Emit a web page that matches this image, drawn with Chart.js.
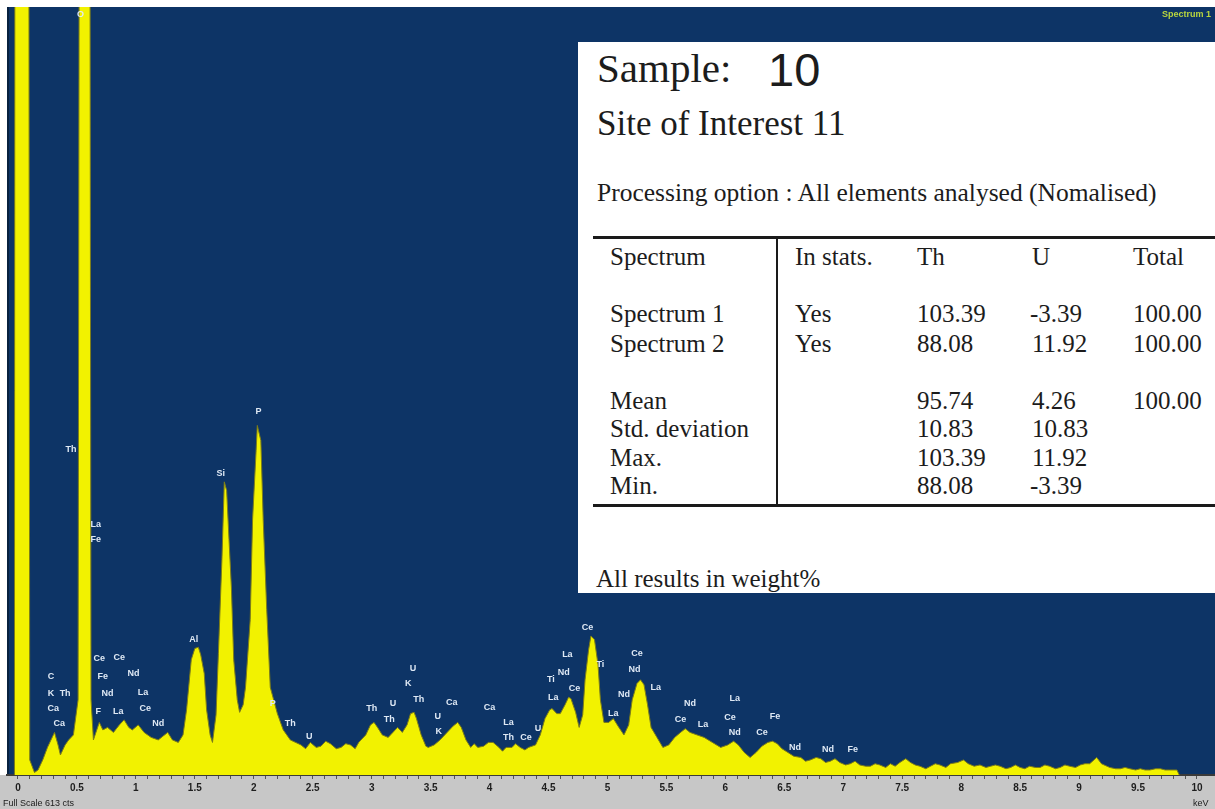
<!DOCTYPE html>
<html>
<head>
<meta charset="utf-8">
<script src="https://cdn.jsdelivr.net/npm/chart.js@4.4.1/dist/chart.umd.min.js"></script>
<style>
  html, body { margin: 0; padding: 0; background: #ffffff; }
  #wrap { position: relative; width: 1215px; height: 809px; overflow: hidden; }
  #spec { position: absolute; left: 0; top: 0; }
  .box { position: absolute; left: 578px; top: 42px; width: 637px; height: 551px; background: #ffffff; }
  .t { position: absolute; white-space: nowrap; line-height: 1; color: #1c1c1c;
       font-family: "Liberation Serif", "Times New Roman", serif; font-size: 25px; }
  .sans { font-family: "Liberation Sans", Arial, sans-serif; }
  .rule { position: absolute; background: #1a1a1a; }
  .ax { position: absolute; white-space: nowrap; line-height: 1; color: #202020;
        font-family: "Liberation Sans", Arial, sans-serif; font-size: 9px; }
  .spec1 { position: absolute; white-space: nowrap; line-height: 1; color: #b9d63e;
           font-family: "Liberation Sans", Arial, sans-serif; font-size: 9px; font-weight: bold; }
</style>
</head>
<body>
<div id="wrap">
  <canvas id="spec" width="1215" height="809"></canvas>

  <div class="spec1" style="left:1162px; top:10px;">Spectrum 1</div>

  <div class="box"></div>
  <div class="t" style="left:597px; top:48px; font-size:41px;">Sample:</div>
  <div class="t sans" style="left:768px; top:46px; font-size:47px;">10</div>
  <div class="t" style="left:597px; top:106px; font-size:35px;">Site of Interest 11</div>
  <div class="t" style="left:597px; top:180px; font-size:25.5px;">Processing option : All elements analysed (Nomalised)</div>

  <div class="rule" style="left:593px; top:236px; width:622px; height:3px;"></div>
  <div class="rule" style="left:776px; top:238px; width:2px; height:268px;"></div>
  <div class="rule" style="left:593px; top:504px; width:622px; height:3px;"></div>

  <div class="t" style="left:610px; top:244px;">Spectrum</div>
  <div class="t" style="left:795px; top:244px;">In stats.</div>
  <div class="t" style="left:917px; top:244px;">Th</div>
  <div class="t" style="left:1032px; top:244px;">U</div>
  <div class="t" style="left:1133px; top:244px;">Total</div>

  <div class="t" style="left:610px; top:301px;">Spectrum 1</div>
  <div class="t" style="left:795px; top:301px;">Yes</div>
  <div class="t" style="left:917px; top:301px;">103.39</div>
  <div class="t" style="left:1030px; top:301px;">-3.39</div>
  <div class="t" style="left:1133px; top:301px;">100.00</div>

  <div class="t" style="left:610px; top:331px;">Spectrum 2</div>
  <div class="t" style="left:795px; top:331px;">Yes</div>
  <div class="t" style="left:917px; top:331px;">88.08</div>
  <div class="t" style="left:1032px; top:331px;">11.92</div>
  <div class="t" style="left:1133px; top:331px;">100.00</div>

  <div class="t" style="left:610px; top:388px;">Mean</div>
  <div class="t" style="left:917px; top:388px;">95.74</div>
  <div class="t" style="left:1032px; top:388px;">4.26</div>
  <div class="t" style="left:1133px; top:388px;">100.00</div>

  <div class="t" style="left:610px; top:416px;">Std. deviation</div>
  <div class="t" style="left:917px; top:416px;">10.83</div>
  <div class="t" style="left:1032px; top:416px;">10.83</div>

  <div class="t" style="left:610px; top:445px;">Max.</div>
  <div class="t" style="left:917px; top:445px;">103.39</div>
  <div class="t" style="left:1032px; top:445px;">11.92</div>

  <div class="t" style="left:610px; top:473px;">Min.</div>
  <div class="t" style="left:917px; top:473px;">88.08</div>
  <div class="t" style="left:1030px; top:473px;">-3.39</div>

  <div class="t" style="left:596px; top:566px;">All results in weight%</div>

  <div class="ax" style="left:3px; top:799px;">Full Scale 613 cts</div>
  <div class="ax" style="left:1193px; top:799px;">keV</div>
</div>

<script>
// EDS spectrum, counts per channel against energy (keV)
const energyLow = [-0.03, -0.02, 0.08, 0.10, 0.14, 0.17, 0.21, 0.25, 0.31, 0.34, 0.36, 0.40, 0.43, 0.47,
  0.51, 0.53, 0.60, 0.62, 0.64, 0.69, 0.72, 0.76, 0.81, 0.86, 0.90, 0.94, 0.97, 1.02, 1.07, 1.13,
  1.19, 1.23, 1.27, 1.31, 1.36, 1.40, 1.43, 1.47, 1.50, 1.53, 1.55, 1.58, 1.60, 1.63, 1.65, 1.68,
  1.70, 1.73, 1.75, 1.77, 1.79, 1.81, 1.83, 1.86, 1.88, 1.91, 1.93, 1.97, 1.99, 2.02, 2.03, 2.06,
  2.08, 2.11, 2.14, 2.18, 2.20, 2.25, 2.31];
const countsLow = [0, 1800, 1800, 12, 2, 4, 12, 22, 34, 24, 16, 24, 28, 32,
  60, 1400, 1400, 60, 28, 42, 36, 38, 34, 40, 44, 38, 36, 40, 34, 30,
  28, 31, 34, 28, 26, 32, 52, 92, 101, 102, 96, 81, 52, 32, 26, 48,
  97, 172, 234, 227, 188, 150, 92, 60, 50, 56, 70, 124, 204, 259, 279, 267,
  204, 132, 70, 56, 49, 36, 28];

const energyMid = [2.40, 2.44, 2.48, 2.53, 2.57, 2.61, 2.65, 2.70, 2.74, 2.78, 2.82, 2.86, 2.89, 2.95,
  2.99, 3.02, 3.05, 3.09, 3.14, 3.18, 3.22, 3.26, 3.30, 3.33, 3.36, 3.38, 3.42, 3.46, 3.48, 3.53,
  3.58, 3.64, 3.69, 3.73, 3.76, 3.80, 3.84, 3.87, 3.90, 3.95, 3.99, 4.03, 4.08, 4.11, 4.14, 4.19,
  4.22, 4.26, 4.30, 4.33, 4.39, 4.43, 4.47, 4.51, 4.53, 4.57, 4.60, 4.64, 4.67, 4.69, 4.73, 4.76,
  4.79, 4.81, 4.84, 4.86, 4.89, 4.92, 4.94, 4.97];
const countsMid = [24, 21, 26, 22, 23, 27, 25, 21, 22, 25, 24, 21, 26, 32,
  40, 42, 38, 32, 30, 34, 38, 34, 40, 49, 50, 45, 32, 23, 22, 24,
  28, 34, 39, 42, 38, 28, 22, 25, 22, 23, 26, 26, 22, 19, 22, 22,
  25, 22, 20, 22, 24, 32, 45, 52, 53, 49, 49, 56, 62, 61, 50, 38,
  48, 76, 100, 111, 108, 88, 60, 42];

const energyHigh = [5.01, 5.05, 5.09, 5.14, 5.18, 5.21, 5.25, 5.28, 5.31, 5.34, 5.37, 5.42, 5.47,
  5.52, 5.57, 5.62, 5.66, 5.70, 5.76, 5.82, 5.89, 5.96, 6.02, 6.07, 6.11, 6.16, 6.21, 6.26, 6.31,
  6.36, 6.40, 6.44, 6.48, 6.53, 6.58, 6.64, 6.68, 6.72, 6.77, 6.81, 6.85, 6.89, 6.93, 6.97, 7.02,
  7.06, 7.10, 7.14, 7.19, 7.23, 7.27, 7.31, 7.36, 7.40, 7.44, 7.48, 7.53, 7.57, 7.61, 7.65, 7.70,
  7.74, 7.78, 7.82, 7.87, 7.91, 7.97, 8.02, 8.06, 8.11, 8.16, 8.21, 8.25, 8.29, 8.33, 8.38, 8.42,
  8.46, 8.50, 8.54, 8.58, 8.63, 8.67, 8.71, 8.75, 8.80, 8.84, 8.88, 8.92, 8.97, 9.01, 9.05, 9.09,
  9.15, 9.19, 9.26, 9.31, 9.35, 9.39, 9.43, 9.48, 9.52, 9.56, 9.60, 9.65, 9.69, 9.73, 9.77, 9.83, 9.85];
const countsHigh = [42, 45, 39, 32, 40, 60, 73, 76, 72, 56, 38, 30, 22,
  24, 30, 34, 37, 34, 32, 30, 26, 22, 24, 27, 24, 18, 14, 18, 23,
  26, 27, 25, 21, 18, 15, 14, 11, 12, 14, 13, 10, 11, 13, 10, 8,
  9, 11, 8, 7, 7, 9, 8, 6, 9, 7, 10, 13, 10, 8, 7, 5,
  7, 9, 8, 6, 9, 10, 12, 9, 7, 8, 6, 7, 8, 7, 5, 6,
  8, 6, 5, 7, 6, 6, 8, 7, 5, 6, 8, 7, 6, 8, 9, 9,
  14, 9, 6, 5, 5, 6, 5, 4, 5, 4, 4, 5, 5, 4, 4, 4, 0];

// Axis ticks (keV) and their labels
const tickKeV = [0, 0.5, 1, 1.5, 2, 2.5, 3, 3.5, 4, 4.5, 5, 5.5, 6, 6.5, 7, 7.5, 8, 8.5, 9, 9.5, 10];
const tickLabels = ['0', '0.5', '1', '1.5', '2', '2.5', '3', '3.5', '4', '4.5', '5', '5.5', '6',
  '6.5', '7', '7.5', '8', '8.5', '9', '9.5', '10'];

// Element line markers: symbol, energy (keV), height (counts)
const markerText = ['O', 'Th', 'La', 'Fe', 'C', 'K', 'Th', 'Ca', 'Ca', 'Ce', 'Ce', 'Fe', 'Nd', 'Nd',
  'La', 'F', 'La', 'Ce', 'Nd', 'Al', 'Si', 'P', 'P', 'Th', 'U', 'Th', 'U', 'Th', 'U', 'K', 'Th',
  'Ca', 'U', 'K', 'Ca', 'La', 'Th', 'Ce', 'U', 'Ti', 'La', 'Nd', 'La', 'Ce', 'Ce', 'Ti', 'La', 'Nd',
  'Ce', 'Nd', 'La', 'Nd', 'Ce', 'La', 'La', 'Ce', 'Nd', 'Ce', 'Fe', 'Nd', 'Nd', 'Fe'];
const markerKeV = [0.53, 0.45, 0.66, 0.66, 0.28, 0.28, 0.40, 0.30, 0.35, 0.69, 0.86, 0.72, 0.98, 0.76,
  1.06, 0.68, 0.85, 1.08, 1.19, 1.49, 1.72, 2.04, 2.16, 2.31, 2.47, 3.00, 3.18, 3.15, 3.35, 3.31, 3.40,
  3.68, 3.56, 3.57, 4.00, 4.16, 4.16, 4.31, 4.41, 4.52, 4.54, 4.63, 4.66, 4.72, 4.83, 4.94, 5.05, 5.14,
  5.25, 5.23, 5.41, 5.70, 5.62, 5.81, 6.08, 6.04, 6.08, 6.31, 6.42, 6.59, 6.87, 7.08];
const markerCts = [607, 260, 200, 188, 79, 65, 65, 53, 41, 93, 94, 79, 81, 65,
  66, 51, 51, 53, 41, 108, 241, 290, 57, 41, 31, 53, 57, 44, 85, 73, 60,
  58, 47, 35, 54, 42, 30, 30, 37, 76, 62, 82, 96, 69, 118, 88, 49, 64,
  97, 84, 70, 57, 44, 40, 61, 46, 34, 34, 47, 22, 20, 20];

const fullScale = 613;

const energy = energyLow.concat(energyMid, energyHigh);
const counts = countsLow.concat(countsMid, countsHigh);
const points = energy.map((e, i) => ({ x: e, y: counts[i] }));

const minorTicks = [];
for (let k = 0; k <= 100; k++) minorTicks.push(k / 10);

const panelColours = {
  id: 'panelColours',
  beforeDraw(chart) {
    const { ctx, chartArea: a, width, height } = chart;
    ctx.save();
    ctx.fillStyle = '#0d3466';
    ctx.fillRect(a.left, a.top, width - a.left, a.bottom - a.top);
    ctx.fillStyle = '#c7c7c7';
    ctx.fillRect(0, a.bottom, width, height - a.bottom);
    ctx.fillStyle = '#08213f';
    ctx.fillRect(a.left, a.top, 2, a.bottom - a.top);
    ctx.restore();
  }
};

const elementMarkers = {
  id: 'elementMarkers',
  afterDatasetsDraw(chart) {
    const { ctx } = chart;
    const xs = chart.scales.x, ys = chart.scales.y;
    ctx.save();
    ctx.font = 'bold 9px "Liberation Sans", Arial, sans-serif';
    ctx.fillStyle = '#dfe9f5';
    ctx.textAlign = 'center';
    ctx.textBaseline = 'middle';
    markerText.forEach((s, i) => {
      ctx.fillText(s, xs.getPixelForValue(markerKeV[i]), ys.getPixelForValue(markerCts[i]));
    });
    ctx.restore();
  }
};

new Chart(document.getElementById('spec'), {
  type: 'line',
  data: {
    datasets: [{
      data: points,
      fill: 'origin',
      backgroundColor: '#f2f200',
      borderColor: '#7d7d18',
      borderWidth: 1,
      pointRadius: 0,
      tension: 0,
      clip: 0
    }]
  },
  options: {
    responsive: false,
    animation: false,
    events: [],
    layout: { padding: { left: 7, top: 7, right: 0, bottom: 0 } },
    plugins: { legend: { display: false }, tooltip: { enabled: false } },
    scales: {
      x: {
        type: 'linear',
        min: -0.093,
        max: 10.153,
        afterFit(scale) { scale.height = 34; },
        afterBuildTicks(scale) { scale.ticks = minorTicks.map(v => ({ value: v })); },
        ticks: {
          autoSkip: false,
          maxRotation: 0,
          padding: 3,
          color: '#1e1e1e',
          font: { family: '"Liberation Sans", Arial, sans-serif', size: 10, weight: 'bold' },
          callback(v) {
            const i = tickKeV.findIndex(k => Math.abs(k - v) < 1e-6);
            return i >= 0 ? tickLabels[i] : '';
          }
        },
        grid: { drawOnChartArea: false, drawTicks: true, tickLength: 4, color: '#555555' },
        border: { display: true, color: '#3a3a3a', width: 2 }
      },
      y: { display: false, min: 0, max: fullScale }
    }
  },
  plugins: [panelColours, elementMarkers]
});
</script>
</body>
</html>
